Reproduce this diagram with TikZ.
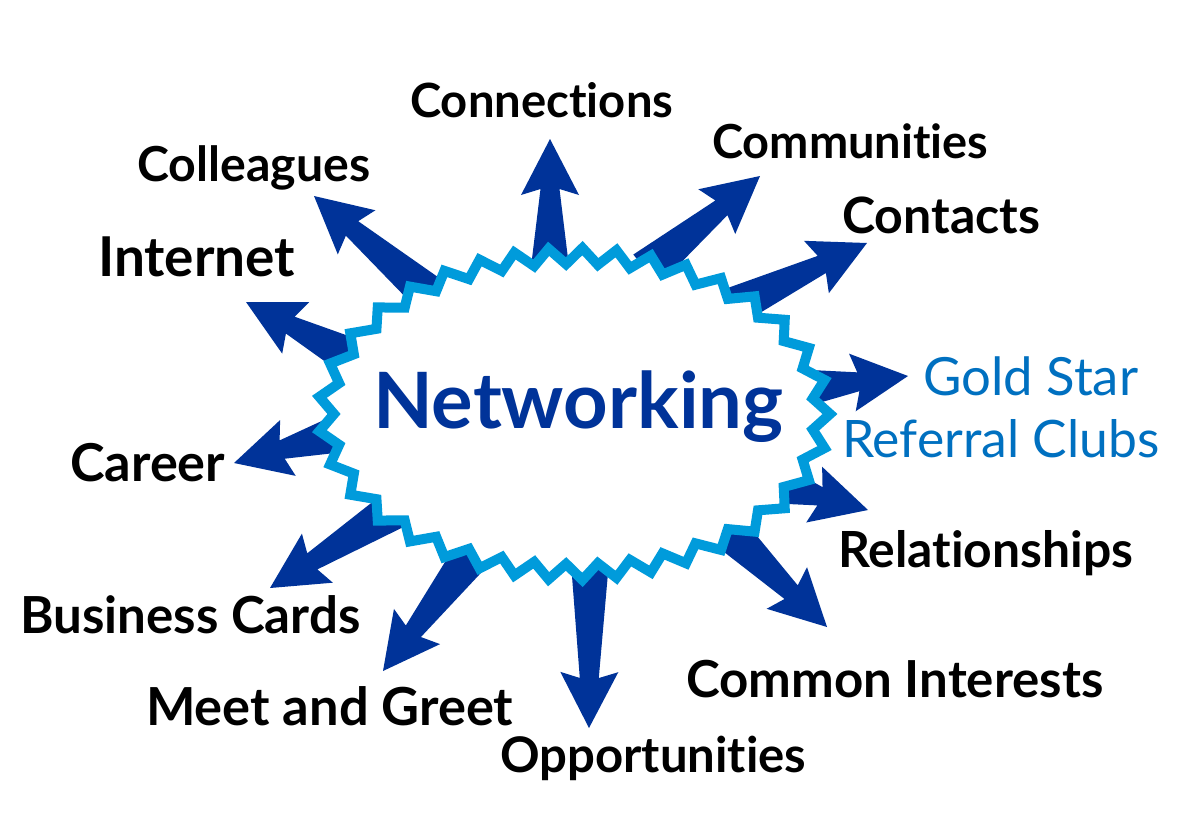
\documentclass[tikz,border=0pt]{standalone}
\usepackage{fontspec}
\setmainfont{Lato}[Ligatures={NoCommon}]
\usepackage{graphicx}
\usetikzlibrary{calc}
\definecolor{arrowblue}{HTML}{003399}
\definecolor{zigblue}{HTML}{009BDB}
\definecolor{textblue}{HTML}{0070C0}
\tikzset{
  lab/.style={inner sep=0pt, anchor=base west, font=\bfseries, text=black},
  bluelab/.style={inner sep=0pt, anchor=base west, text=textblue},
  zigline/.style={draw=zigblue, fill=white, line width=10pt, line join=miter, miter limit=20},
  arrowfill/.style={fill=arrowblue}
}
\newcommand\bigarrow[3]{%
  \coordinate (#1n) at ($(#3)!50pt!(#2)$);
  \coordinate (#1h) at ($(#3)!56pt!(#2)$);
  \fill[arrowfill] ($(#2)!20pt!90:(#3)$) -- ($(#1n)!9.5pt!90:(#3)$) -- ($(#1h)!29pt!90:(#3)$) -- (#3)
    -- ($(#1h)!29pt!-90:(#3)$) -- ($(#1n)!9.5pt!-90:(#3)$) -- ($(#2)!20pt!-90:(#3)$) -- cycle;
}
\newcommand\lbl[6]{\node[#1] (#2) at (#3,#4) {\resizebox{#5pt}{!}{#6}};}
\begin{document}
\begin{tikzpicture}[x=1pt,y=-1pt]
\useasboundingbox[fill=white] (0,0) rectangle (1184,820);
% arrow coordinates
\coordinate (connB) at (550,275);   \coordinate (connT) at (550,139);
\coordinate (commB) at (646,270);   \coordinate (commT) at (760,176);
\coordinate (contB) at (728,309);   \coordinate (contT) at (867,243);
\coordinate (goldB) at (796,389);   \coordinate (goldT) at (908,376);
\coordinate (relB)  at (777,484);   \coordinate (relT)  at (868,510);
\coordinate (cintB) at (723,526);   \coordinate (cintT) at (827,627);
\coordinate (oppB)  at (590,550);   \coordinate (oppT)  at (589,728);
\coordinate (meetB) at (477,548);   \coordinate (meetT) at (383,671);
\coordinate (busB)  at (397,508);   \coordinate (busT)  at (270,588);
\coordinate (carB)  at (345,432);   \coordinate (carT)  at (234,463);
\coordinate (intB)  at (357,360);   \coordinate (intT)  at (246,302);
\coordinate (colB)  at (436,300);   \coordinate (colT)  at (314,196);
\bigarrow{conn}{connB}{connT}
\bigarrow{comm}{commB}{commT}
\bigarrow{cont}{contB}{contT}
\bigarrow{gold}{goldB}{goldT}
\bigarrow{rel}{relB}{relT}
\bigarrow{cint}{cintB}{cintT}
\bigarrow{opp}{oppB}{oppT}
\bigarrow{meet}{meetB}{meetT}
\bigarrow{bus}{busB}{busT}
\bigarrow{car}{carB}{carT}
\bigarrow{int}{intB}{intT}
\bigarrow{col}{colB}{colT}
% central zigzag ellipse (explicit teeth, near-uniform spacing)
\draw[zigline] plot[samples at={0,...,73}, variable=\i]
  ({574+(248+8*cos(180*\i))*cos(\i*4.864865+6.35*sin(\i*9.72973))},
   {414+(158+8*cos(180*\i))*sin(\i*4.864865+6.35*sin(\i*9.72973))}) -- cycle;
\node[inner sep=0pt, anchor=base west, text=arrowblue, font=\bfseries] (net) at (373,428) {\resizebox{410pt}{!}{Networking}};
% labels
\lbl{lab}{connections}{410}{117}{263}{Connections}
\lbl{lab}{communities}{712}{158}{276}{Communities}
\lbl{lab}{colleagues}{137}{181}{233}{Colleagues}
\lbl{lab}{contacts}{842}{233}{198}{Contacts}
\lbl{lab}{internet}{98}{276}{197}{Internet}
\lbl{bluelab}{goldstar}{923}{395}{215}{Gold Star}
\lbl{bluelab}{referral}{842}{457}{317}{Referral Clubs}
\lbl{lab}{career}{70}{481}{155}{Career}
\lbl{lab}{relationships}{838}{567}{295}{Relationships}
\lbl{lab}{business}{20}{633}{340}{Business Cards}
\lbl{lab}{common}{686}{697}{417}{Common Interests}
\lbl{lab}{meet}{146}{725}{367}{Meet and Greet}
\lbl{lab}{opportunities}{500}{772}{306}{Opportunities}
\end{tikzpicture}
\end{document}
